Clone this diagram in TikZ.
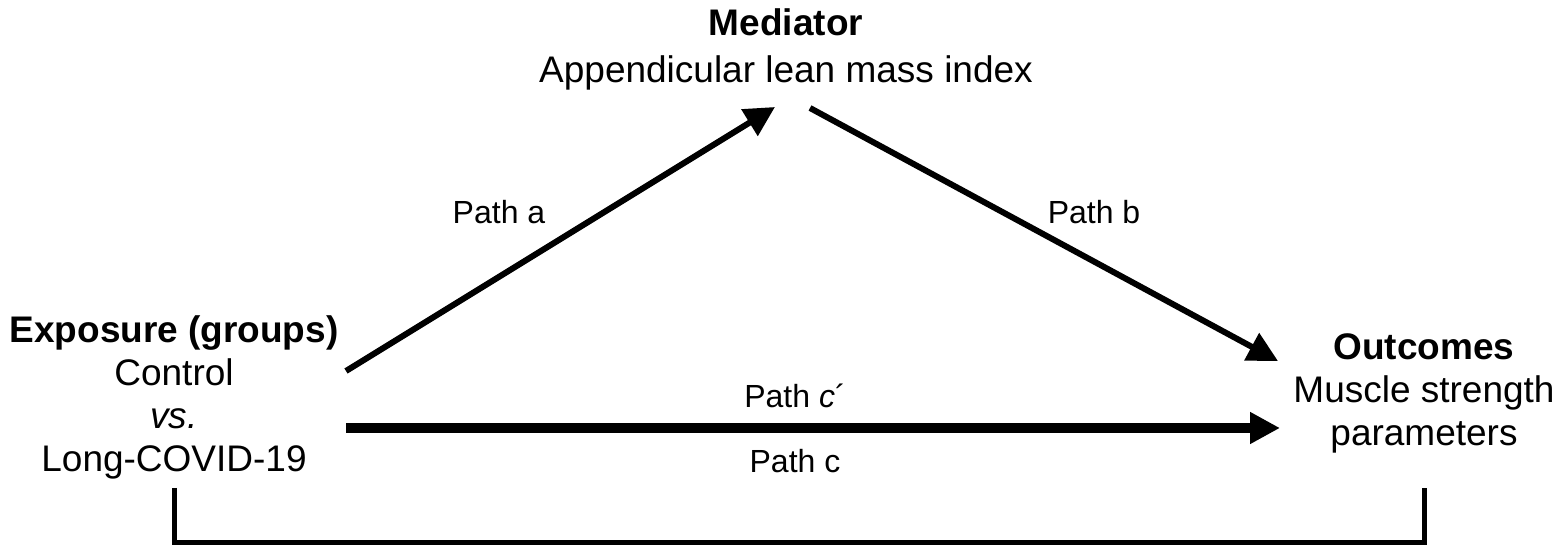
\documentclass[tikz,border=0pt]{standalone}
\usepackage{fontspec}
\setmainfont{Liberation Sans}
\usetikzlibrary{arrows.meta}

\tikzset{
  txt/.style={align=center, anchor=base, inner sep=0pt, font=\fontsize{18.5}{21.5}\selectfont},
  lbl/.style={anchor=base, inner sep=0pt, font=\fontsize{16}{19}\selectfont},
  patharrow/.style={line width=3pt, -{Triangle[length=15pt, width=15pt]}},
}

\begin{document}
\begin{tikzpicture}[x=0.5pt, y=-0.5pt]
  \useasboundingbox (0,0) rectangle (1558,549);
  % Nodes
  \node[txt] (med) at (786, 83) {\textbf{Mediator}\\[2pt]Appendicular lean mass index};
  \node[txt] (expo) at (174, 472) {\textbf{Exposure (groups)}\\Control\\\textit{vs.}\\Long-COVID-19};
  \node[txt] (out) at (1424, 446) {\textbf{Outcomes}\\Muscle strength\\parameters};

  % Arrow ends
  \coordinate (a0) at (346, 371);
  \coordinate (a1) at (775, 107);
  \coordinate (b0) at (810, 108);
  \coordinate (b1) at (1278, 361);
  \coordinate (c0) at (346, 428);
  \coordinate (c1) at (1280, 428);
  \coordinate (d0) at (174, 488);
  \coordinate (d1) at (1424, 488);

  % Edges
  \draw[patharrow] (a0) -- (a1);
  \draw[patharrow] (b0) -- (b1);
  \draw[patharrow, line width=5pt] (c0) -- (c1);
  \draw[line width=2.5pt] (d0) -- (174, 543) -- (1424, 543) -- (d1);

  % Labels
  \node[lbl] (pa) at (499, 224) {Path a};
  \node[lbl] (pb) at (1094, 224) {Path b};
  \node[lbl] (pc1) at (795, 408) {Path \textit{c}\textasciiacute};
  \node[lbl] (pc) at (795, 473) {Path c};
\end{tikzpicture}
\end{document}
